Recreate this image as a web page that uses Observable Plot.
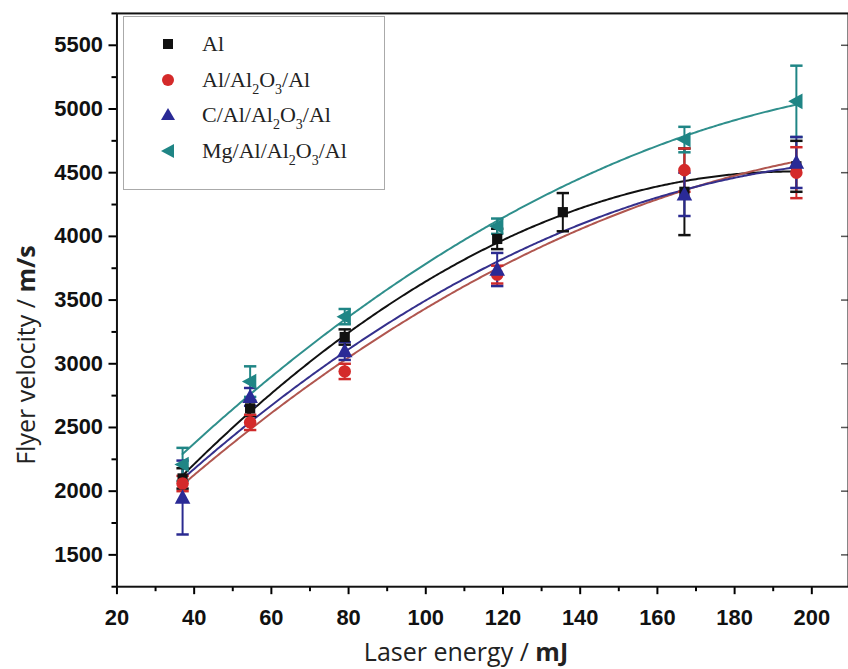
<!DOCTYPE html>
<html>
<head>
<meta charset="utf-8">
<script src="https://cdn.jsdelivr.net/npm/d3@7"></script>
<script src="https://cdn.jsdelivr.net/npm/@observablehq/plot@0.6"></script>
<style>
  html, body { margin: 0; padding: 0; background: #fff; overflow: hidden; width: 848px; height: 669px; }
  #wrap { position: relative; width: 848px; height: 669px; overflow: hidden; }
  #wrap > svg.main { position: absolute; left: 0; top: 0; }
  .legend { position: absolute; left: 123px; top: 16px; width: 262px; height: 174px; border: 1.5px solid #aaa; background: #fff; box-sizing: border-box; font-family: "Liberation Serif", serif; font-size: 22px; color: #222; }
  .legend .row { position: absolute; left: 0; height: 30px; display: flex; align-items: center; white-space: nowrap; }
  .legend .row svg { display: block; margin-left: 34px; margin-right: 24px; }
  .legend sub { font-size: 14px; vertical-align: -7px; line-height: 0; }
  .ylab { position: absolute; left: 25px; top: 355px; transform: translate(-50%, -50%) rotate(-90deg); font-family: "Open Sans", sans-serif; font-size: 25px; white-space: nowrap; color: #222; }
  .xlab { position: absolute; left: 466px; top: 651px; transform: translate(-50%, -50%); font-family: "Open Sans", sans-serif; font-size: 25px; white-space: nowrap; color: #222; }
  b { font-weight: 700; }
</style>
</head>
<body>
<div id="wrap"></div>
<script>
// ---- data ----
const seriesNames = ["Al", "Al/Al2O3/Al", "C/Al/Al2O3/Al", "Mg/Al/Al2O3/Al"];

const alX   = [37, 54.5, 79, 118.5, 135.5, 167, 196];
const alY   = [2100, 2650, 3210, 3980, 4190, 4350, 4550];
const alErr = [80, 60, 60, 80, 150, 340, 200];

const aloX   = [37, 54.5, 79, 118.5, 167, 196];
const aloY   = [2060, 2540, 2940, 3700, 4520, 4500];
const aloErr = [60, 60, 60, 70, 170, 200];

const cX   = [37, 54.5, 79, 118.5, 167, 196];
const cY   = [1950, 2740, 3100, 3740, 4330, 4580];
const cErr = [290, 70, 70, 130, 170, 200];

const mgX   = [37, 54.5, 79, 118.5, 167, 196];
const mgY   = [2210, 2860, 3370, 4080, 4760, 5060];
const mgErr = [130, 120, 60, 60, 100, 280];

const xTicks = [20, 40, 60, 80, 100, 120, 140, 160, 180, 200];
const xMinorTicks = [30, 50, 70, 90, 110, 130, 150, 170, 190];
const yTicks = [1500, 2000, 2500, 3000, 3500, 4000, 4500, 5000, 5500];
const yMinorTicks = [1250, 1750, 2250, 2750, 3250, 3750, 4250, 4750, 5250, 5750];

const markerColors = ["#111111", "#d42a2a", "#2a2a96", "#1f8585"];
const lineColors   = ["#111111", "#b0564f", "#35308c", "#2f8f8c"];
const errColors    = ["#111111", "#cf2a2a", "#2a2a90", "#1f8585"];

// ---- symbols ----
const sqSym = {draw(ctx, size) { const s = Math.sqrt(size) / 2; ctx.rect(-s, -s, 2 * s, 2 * s); }};
const circSym = {draw(ctx, size) { const r = Math.sqrt(size / Math.PI); ctx.moveTo(r, 0); ctx.arc(0, 0, r, 0, 2 * Math.PI); }};
const upTri = {draw(ctx, size) { const s = Math.sqrt(size) * 0.62; ctx.moveTo(0, -s); ctx.lineTo(s * 0.95, s * 0.75); ctx.lineTo(-s * 0.95, s * 0.75); ctx.closePath(); }};
const leftTri = {draw(ctx, size) { const s = Math.sqrt(size) * 0.62; ctx.moveTo(-s, 0); ctx.lineTo(s * 0.75, -s * 0.95); ctx.lineTo(s * 0.75, s * 0.95); ctx.closePath(); }};
const capSym = {draw(ctx, size) { const s = Math.sqrt(size) / 2; ctx.moveTo(-s, 0); ctx.lineTo(s, 0); }};
const symbols = [sqSym, circSym, upTri, leftTri];

// ---- build table ----
const raw = [[alX, alY, alErr], [aloX, aloY, aloErr], [cX, cY, cErr], [mgX, mgY, mgErr]];
const points = [];
raw.forEach(([xs, ys, es], i) => xs.forEach((x, j) => points.push({s: i, x, y: ys[j], lo: ys[j] - es[j], hi: ys[j] + es[j]})));

// quadratic least-squares fit from the data (like the original's fit curves)
function quadFit(xs, ys) {
  let S = Array(5).fill(0), T = Array(3).fill(0);
  xs.forEach((x, i) => { for (let k = 0; k < 5; k++) S[k] += x ** k; for (let k = 0; k < 3; k++) T[k] += ys[i] * x ** k; });
  const A = [[S[0], S[1], S[2], T[0]], [S[1], S[2], S[3], T[1]], [S[2], S[3], S[4], T[2]]];
  for (let c = 0; c < 3; c++) {
    for (let r = c + 1; r < 3; r++) { const f = A[r][c] / A[c][c]; for (let k = c; k < 4; k++) A[r][k] -= f * A[c][k]; }
  }
  const b = [0, 0, 0];
  for (let r = 2; r >= 0; r--) { let v = A[r][3]; for (let k = r + 1; k < 3; k++) v -= A[r][k] * b[k]; b[r] = v / A[r][r]; }
  return x => b[0] + b[1] * x + b[2] * x * x;
}
const fitLines = [];
raw.forEach(([xs, ys], i) => {
  const f = quadFit(xs, ys);
  const x0 = d3.min(xs), x1 = d3.max(xs);
  d3.range(x0, x1, 0.5).concat([x1]).forEach(x => fitLines.push({s: i, x, y: f(x)}));
});

const tickFont = {fontFamily: "Liberation Sans, Arial, sans-serif", fontWeight: "bold", fontSize: 22, fill: "#111"};

const marks = [
  // fit lines
  ...[0, 1, 2, 3].map(i => Plot.line(fitLines.filter(d => d.s === i), {x: "x", y: "y", stroke: lineColors[i], strokeWidth: 2})),
  // error bars
  ...[0, 1, 2, 3].map(i => Plot.ruleX(points.filter(d => d.s === i), {x: "x", y1: "lo", y2: "hi", stroke: errColors[i], strokeWidth: 2})),
  ...[0, 1, 2, 3].map(i => Plot.dot(points.filter(d => d.s === i), {x: "x", y: "lo", symbol: capSym, r: 7, stroke: errColors[i], strokeWidth: 2.5})),
  ...[0, 1, 2, 3].map(i => Plot.dot(points.filter(d => d.s === i), {x: "x", y: "hi", symbol: capSym, r: 7, stroke: errColors[i], strokeWidth: 2.5})),
  // markers
  ...[0, 1, 2, 3].map(i => Plot.dot(points.filter(d => d.s === i), {x: "x", y: "y", symbol: symbols[i], r: [5.8, 6.3, 7.5, 7.5][i], fill: markerColors[i], stroke: "none"})),
  // axes
  Plot.axisX({ticks: xTicks, tickSize: 8, tickPadding: 15, strokeWidth: 2, label: null, tickFormat: d => String(d), ...tickFont}),
  Plot.axisX({ticks: xMinorTicks, tickSize: 5, strokeWidth: 2, text: null, label: null}),
  Plot.axisY({ticks: yTicks, tickSize: 8, tickPadding: 6, strokeWidth: 2, label: null, tickFormat: d => String(d), ...tickFont}),
  Plot.axisY({ticks: yMinorTicks, tickSize: 5, strokeWidth: 2, text: null, label: null}),
  Plot.axisY({anchor: "right", ticks: yTicks, tickSize: -8, strokeWidth: 1.5, text: null, label: null, stroke: "#555"}),
  Plot.frame({stroke: "#111", strokeWidth: 2})
];

const chart = Plot.plot({
  width: 852, height: 669,
  marginLeft: 117, marginRight: 0, marginTop: 13, marginBottom: 80,
  x: {domain: [20, 209.5]},
  y: {domain: [1250, 5750]},
  style: {background: "transparent", overflow: "visible"},
  marks
});
chart.classList.add("main");

const wrap = document.getElementById("wrap");
wrap.appendChild(chart);

// legend
const legendRows = [
  {label: "Al"},
  {label: "Al/Al<sub>2</sub>O<sub>3</sub>/Al"},
  {label: "C/Al/Al<sub>2</sub>O<sub>3</sub>/Al"},
  {label: "Mg/Al/Al<sub>2</sub>O<sub>3</sub>/Al"}
];
const legendIcons = [
  c => `<rect x="5" y="5" width="10" height="10" fill="${c}"/>`,
  c => `<circle cx="10" cy="10" r="6" fill="${c}"/>`,
  c => `<path d="M10,3 L17,15 L3,15 Z" fill="${c}"/>`,
  c => `<path d="M3,10 L16,3 L16,17 Z" fill="${c}"/>`
];
const legend = document.createElement("div");
legend.className = "legend";
legendRows.forEach((r, i) => {
  const row = document.createElement("div");
  row.className = "row";
  row.style.top = (12 + i * 35.5) + "px";
  row.innerHTML = `<svg width="20" height="20">${legendIcons[i](markerColors[i])}</svg><span>${r.label}</span>`;
  legend.appendChild(row);
});
wrap.appendChild(legend);

const ylab = document.createElement("div");
ylab.className = "ylab";
ylab.innerHTML = "Flyer velocity / <b>m/s</b>";
wrap.appendChild(ylab);
const xlab = document.createElement("div");
xlab.className = "xlab";
xlab.innerHTML = "Laser energy / <b>mJ</b>";
wrap.appendChild(xlab);
</script>
</body>
</html>
